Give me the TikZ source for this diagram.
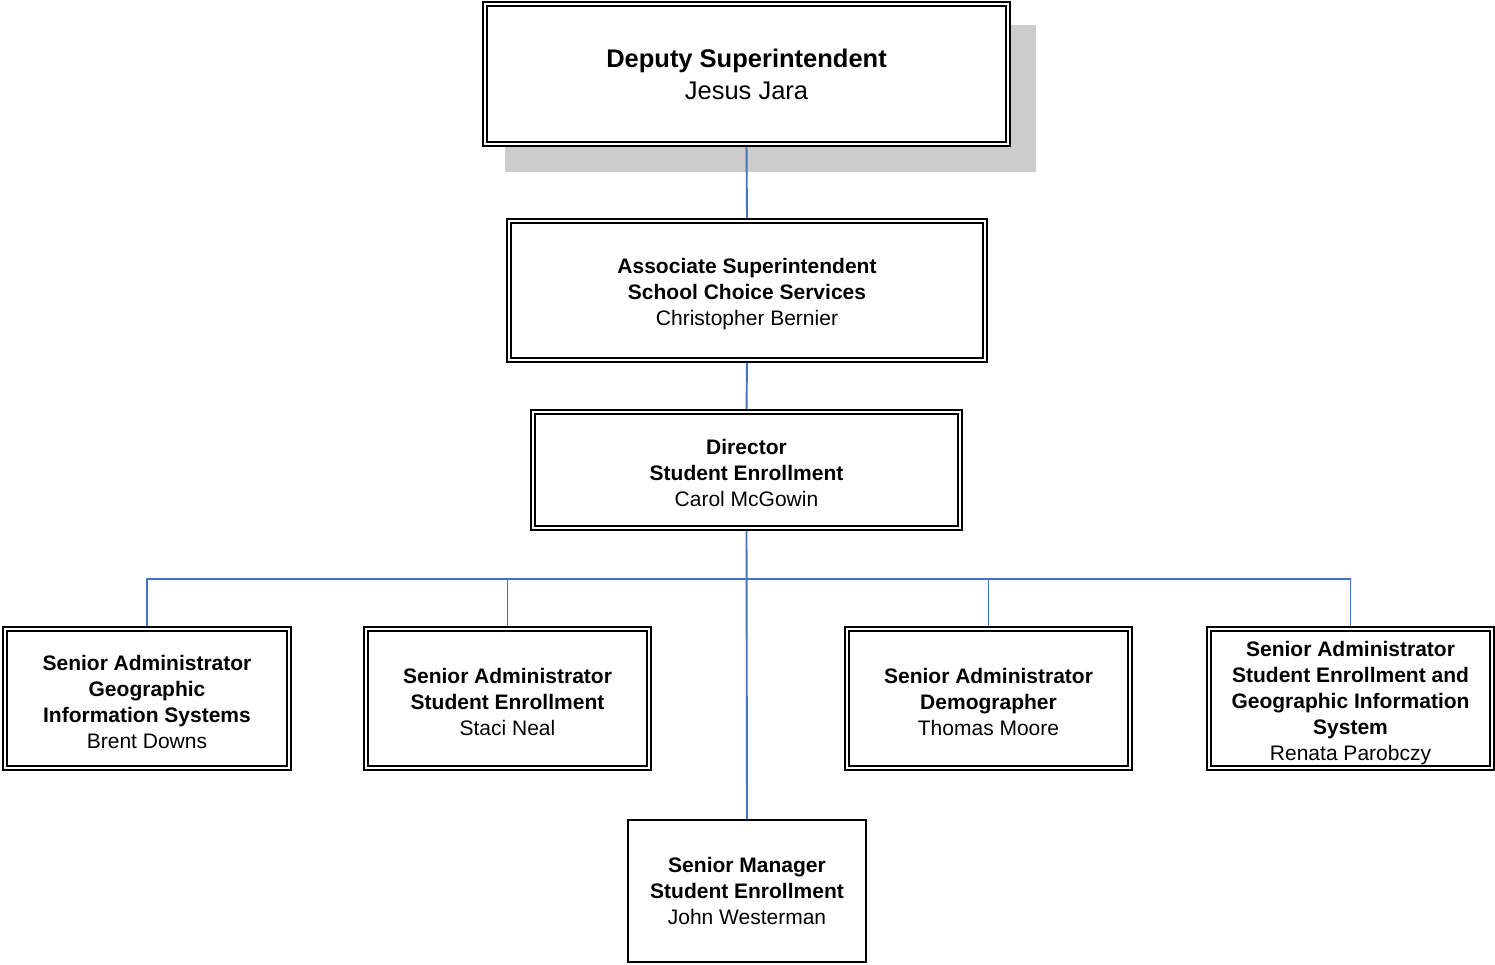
\documentclass[tikz,border=0pt]{standalone}
\usepackage{fontspec}
\setmainfont{Liberation Sans}
\usetikzlibrary{backgrounds}
\definecolor{conn}{HTML}{4472C4}
\definecolor{shadowgray}{HTML}{CCCCCC}
\tikzset{
  dbox/.style={draw=black, line width=1.7pt, double=white, double distance=1.8pt,
    fill=white, inner sep=0pt, outer sep=0pt, align=center,
    font=\fontsize{21}{26}\selectfont},
  sbox/.style={draw=black, line width=2.2pt, fill=white, inner sep=0pt, outer sep=0pt,
    align=center, font=\fontsize{21}{26}\selectfont},
  conline/.style={draw=conn, line width=1.9pt},
}
\begin{document}
\begin{tikzpicture}[x=1pt,y=-1pt]
\useasboundingbox (0,0) rectangle (1495,964);
% nodes
\node[dbox, minimum width=523pt, minimum height=140pt, font=\fontsize{25.5}{32}\selectfont] (top) at (746.5,74)
  {\textbf{Deputy Superintendent}\\Jesus Jara};
\node[dbox, minimum width=476pt, minimum height=139pt] (assoc) at (747,290.5)
  {\rule{0pt}{22pt}\textbf{Associate Superintendent}\\\textbf{School Choice Services}\\Christopher Bernier};
\node[dbox, minimum width=427pt, minimum height=116pt] (dir) at (746.5,470)
  {\rule{0pt}{22pt}\textbf{Director}\\\textbf{Student Enrollment}\\Carol McGowin};
\node[dbox, minimum width=284pt, minimum height=139pt] (b1) at (147,698.5)
  {\rule{0pt}{22pt}\textbf{Senior Administrator}\\\textbf{Geographic}\\\textbf{Information Systems}\\Brent Downs};
\node[dbox, minimum width=283pt, minimum height=139pt] (b2) at (507.5,698.5)
  {\rule{0pt}{22pt}\textbf{Senior Administrator}\\\textbf{Student Enrollment}\\Staci Neal};
\node[dbox, minimum width=283pt, minimum height=139pt] (b3) at (988.5,698.5)
  {\rule{0pt}{22pt}\textbf{Senior Administrator}\\\textbf{Demographer}\\Thomas Moore};
\node[dbox, minimum width=283pt, minimum height=139pt] (b4) at (1350.5,698.5)
  {\rule{0pt}{24pt}\textbf{Senior Administrator}\\\textbf{Student Enrollment and}\\\textbf{Geographic Information}\\\textbf{System}\\Renata Parobczy};
\node[sbox, minimum width=238pt, minimum height=142pt] (mgr) at (747,891)
  {\textbf{Senior Manager}\\\textbf{Student Enrollment}\\John Westerman};
\coordinate (bus) at (747,579);
\begin{scope}[on background layer]
  \fill[shadowgray] (505,25) rectangle (1036,172);
  \draw[conline] (top.south) -- (assoc.north);
  \draw[conline] (assoc.south) -- (dir.north);
  \draw[conline] (dir.south) -- (mgr.north);
  \draw[conline] (b1.north) -- (b1.north |- bus) -- (b4.north |- bus) -- (b4.north);
  \draw[conline] (b2.north) -- (b2.north |- bus);
  \draw[conline] (b3.north) -- (b3.north |- bus);
\end{scope}
\end{tikzpicture}
\end{document}
